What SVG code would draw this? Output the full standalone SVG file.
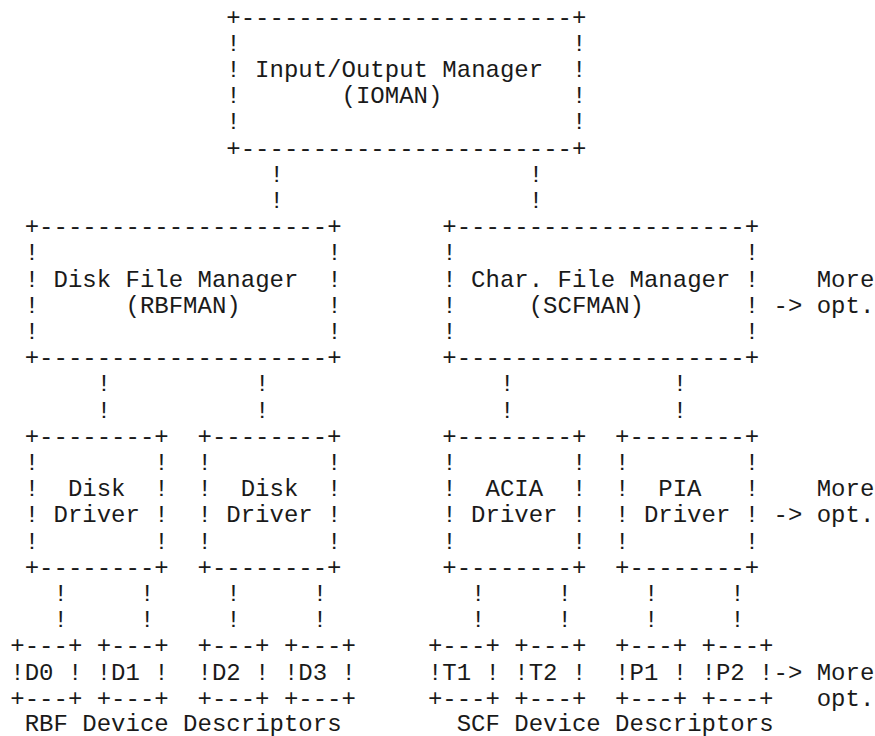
<svg xmlns="http://www.w3.org/2000/svg" width="875" height="736" viewBox="0 0 875 736">
  <style>
    text { font-family: "Liberation Mono", "Courier New", monospace; font-size: 24px; fill: #1a1a1a; white-space: pre; }
  </style>
  <rect width="875" height="736" fill="#ffffff"/>

  <!-- Input/Output Manager -->
  <g id="ioman">
    <text xml:space="preserve" x="226.3" y="24.6">+-----------------------+</text>
    <text xml:space="preserve" x="226.3" y="50.8">!                       !</text>
    <text xml:space="preserve" x="226.3" y="77.0">! Input/Output Manager  !</text>
    <text xml:space="preserve" x="226.3" y="103.2">!       (IOMAN)         !</text>
    <text xml:space="preserve" x="226.3" y="129.4">!                       !</text>
    <text xml:space="preserve" x="226.3" y="155.6">+-----------------------+</text>
  </g>

  <!-- Disk File Manager -->
  <g id="rbfman">
    <text xml:space="preserve" x="24.7" y="234.2">+--------------------+</text>
    <text xml:space="preserve" x="24.7" y="260.4">!                    !</text>
    <text xml:space="preserve" x="24.7" y="286.6">! Disk File Manager  !</text>
    <text xml:space="preserve" x="24.7" y="312.8">!      (RBFMAN)      !</text>
    <text xml:space="preserve" x="24.7" y="339.0">!                    !</text>
    <text xml:space="preserve" x="24.7" y="365.2">+--------------------+</text>
  </g>

  <!-- Character File Manager -->
  <g id="scfman">
    <text xml:space="preserve" x="442.3" y="234.2">+--------------------+</text>
    <text xml:space="preserve" x="442.3" y="260.4">!                    !</text>
    <text xml:space="preserve" x="442.3" y="286.6">! Char. File Manager !</text>
    <text xml:space="preserve" x="442.3" y="312.8">!     (SCFMAN)       !</text>
    <text xml:space="preserve" x="442.3" y="339.0">!                    !</text>
    <text xml:space="preserve" x="442.3" y="365.2">+--------------------+</text>
  </g>
  <g id="more-managers">
    <text x="816.7" y="286.6">More</text>
    <text xml:space="preserve" x="773.5" y="312.8">-> opt.</text>
  </g>

  <!-- Device drivers -->
  <g id="disk-driver-1">
    <text xml:space="preserve" x="24.7" y="443.8">+--------+</text>
    <text xml:space="preserve" x="24.7" y="470.0">!        !</text>
    <text xml:space="preserve" x="24.7" y="496.2">!  Disk  !</text>
    <text xml:space="preserve" x="24.7" y="522.4">! Driver !</text>
    <text xml:space="preserve" x="24.7" y="548.6">!        !</text>
    <text xml:space="preserve" x="24.7" y="574.8">+--------+</text>
  </g>
  <g id="disk-driver-2">
    <text xml:space="preserve" x="197.5" y="443.8">+--------+</text>
    <text xml:space="preserve" x="197.5" y="470.0">!        !</text>
    <text xml:space="preserve" x="197.5" y="496.2">!  Disk  !</text>
    <text xml:space="preserve" x="197.5" y="522.4">! Driver !</text>
    <text xml:space="preserve" x="197.5" y="548.6">!        !</text>
    <text xml:space="preserve" x="197.5" y="574.8">+--------+</text>
  </g>
  <g id="acia-driver">
    <text xml:space="preserve" x="442.3" y="443.8">+--------+</text>
    <text xml:space="preserve" x="442.3" y="470.0">!        !</text>
    <text xml:space="preserve" x="442.3" y="496.2">!  ACIA  !</text>
    <text xml:space="preserve" x="442.3" y="522.4">! Driver !</text>
    <text xml:space="preserve" x="442.3" y="548.6">!        !</text>
    <text xml:space="preserve" x="442.3" y="574.8">+--------+</text>
  </g>
  <g id="pia-driver">
    <text xml:space="preserve" x="615.1" y="443.8">+--------+</text>
    <text xml:space="preserve" x="615.1" y="470.0">!        !</text>
    <text xml:space="preserve" x="615.1" y="496.2">!  PIA   !</text>
    <text xml:space="preserve" x="615.1" y="522.4">! Driver !</text>
    <text xml:space="preserve" x="615.1" y="548.6">!        !</text>
    <text xml:space="preserve" x="615.1" y="574.8">+--------+</text>
  </g>
  <g id="more-drivers">
    <text x="816.7" y="496.2">More</text>
    <text xml:space="preserve" x="773.5" y="522.4">-> opt.</text>
  </g>

  <!-- Device descriptors -->
  <g id="desc-d0">
    <text x="10.3" y="653.4">+---+</text>
    <text xml:space="preserve" x="10.3" y="679.6">!D0 !</text>
    <text x="10.3" y="705.8">+---+</text>
  </g>
  <g id="desc-d1">
    <text x="96.7" y="653.4">+---+</text>
    <text xml:space="preserve" x="96.7" y="679.6">!D1 !</text>
    <text x="96.7" y="705.8">+---+</text>
  </g>
  <g id="desc-d2">
    <text x="197.5" y="653.4">+---+</text>
    <text xml:space="preserve" x="197.5" y="679.6">!D2 !</text>
    <text x="197.5" y="705.8">+---+</text>
  </g>
  <g id="desc-d3">
    <text x="283.9" y="653.4">+---+</text>
    <text xml:space="preserve" x="283.9" y="679.6">!D3 !</text>
    <text x="283.9" y="705.8">+---+</text>
  </g>
  <g id="desc-t1">
    <text x="427.9" y="653.4">+---+</text>
    <text xml:space="preserve" x="427.9" y="679.6">!T1 !</text>
    <text x="427.9" y="705.8">+---+</text>
  </g>
  <g id="desc-t2">
    <text x="514.3" y="653.4">+---+</text>
    <text xml:space="preserve" x="514.3" y="679.6">!T2 !</text>
    <text x="514.3" y="705.8">+---+</text>
  </g>
  <g id="desc-p1">
    <text x="615.1" y="653.4">+---+</text>
    <text xml:space="preserve" x="615.1" y="679.6">!P1 !</text>
    <text x="615.1" y="705.8">+---+</text>
  </g>
  <g id="desc-p2">
    <text x="701.5" y="653.4">+---+</text>
    <text xml:space="preserve" x="701.5" y="679.6">!P2 !</text>
    <text x="701.5" y="705.8">+---+</text>
  </g>
  <g id="more-descriptors">
    <text xml:space="preserve" x="773.5" y="679.6">-> More</text>
    <text x="816.7" y="705.8">opt.</text>
  </g>
  <g id="captions">
    <text xml:space="preserve" x="24.7" y="730.5">RBF Device Descriptors</text>
    <text xml:space="preserve" x="456.7" y="730.5">SCF Device Descriptors</text>
  </g>

  <!-- Connectors -->
  <g id="connectors">
    <text x="269.5" y="181.8">!</text>
    <text x="269.5" y="208.0">!</text>
    <text x="528.7" y="181.8">!</text>
    <text x="528.7" y="208.0">!</text>

    <text x="96.7" y="391.4">!</text>
    <text x="96.7" y="417.6">!</text>
    <text x="255.1" y="391.4">!</text>
    <text x="255.1" y="417.6">!</text>
    <text x="499.9" y="391.4">!</text>
    <text x="499.9" y="417.6">!</text>
    <text x="672.7" y="391.4">!</text>
    <text x="672.7" y="417.6">!</text>

    <text x="53.5" y="601.0">!</text>
    <text x="53.5" y="627.2">!</text>
    <text x="139.9" y="601.0">!</text>
    <text x="139.9" y="627.2">!</text>
    <text x="226.3" y="601.0">!</text>
    <text x="226.3" y="627.2">!</text>
    <text x="312.7" y="601.0">!</text>
    <text x="312.7" y="627.2">!</text>
    <text x="471.1" y="601.0">!</text>
    <text x="471.1" y="627.2">!</text>
    <text x="557.5" y="601.0">!</text>
    <text x="557.5" y="627.2">!</text>
    <text x="643.9" y="601.0">!</text>
    <text x="643.9" y="627.2">!</text>
    <text x="730.3" y="601.0">!</text>
    <text x="730.3" y="627.2">!</text>
  </g>
</svg>
